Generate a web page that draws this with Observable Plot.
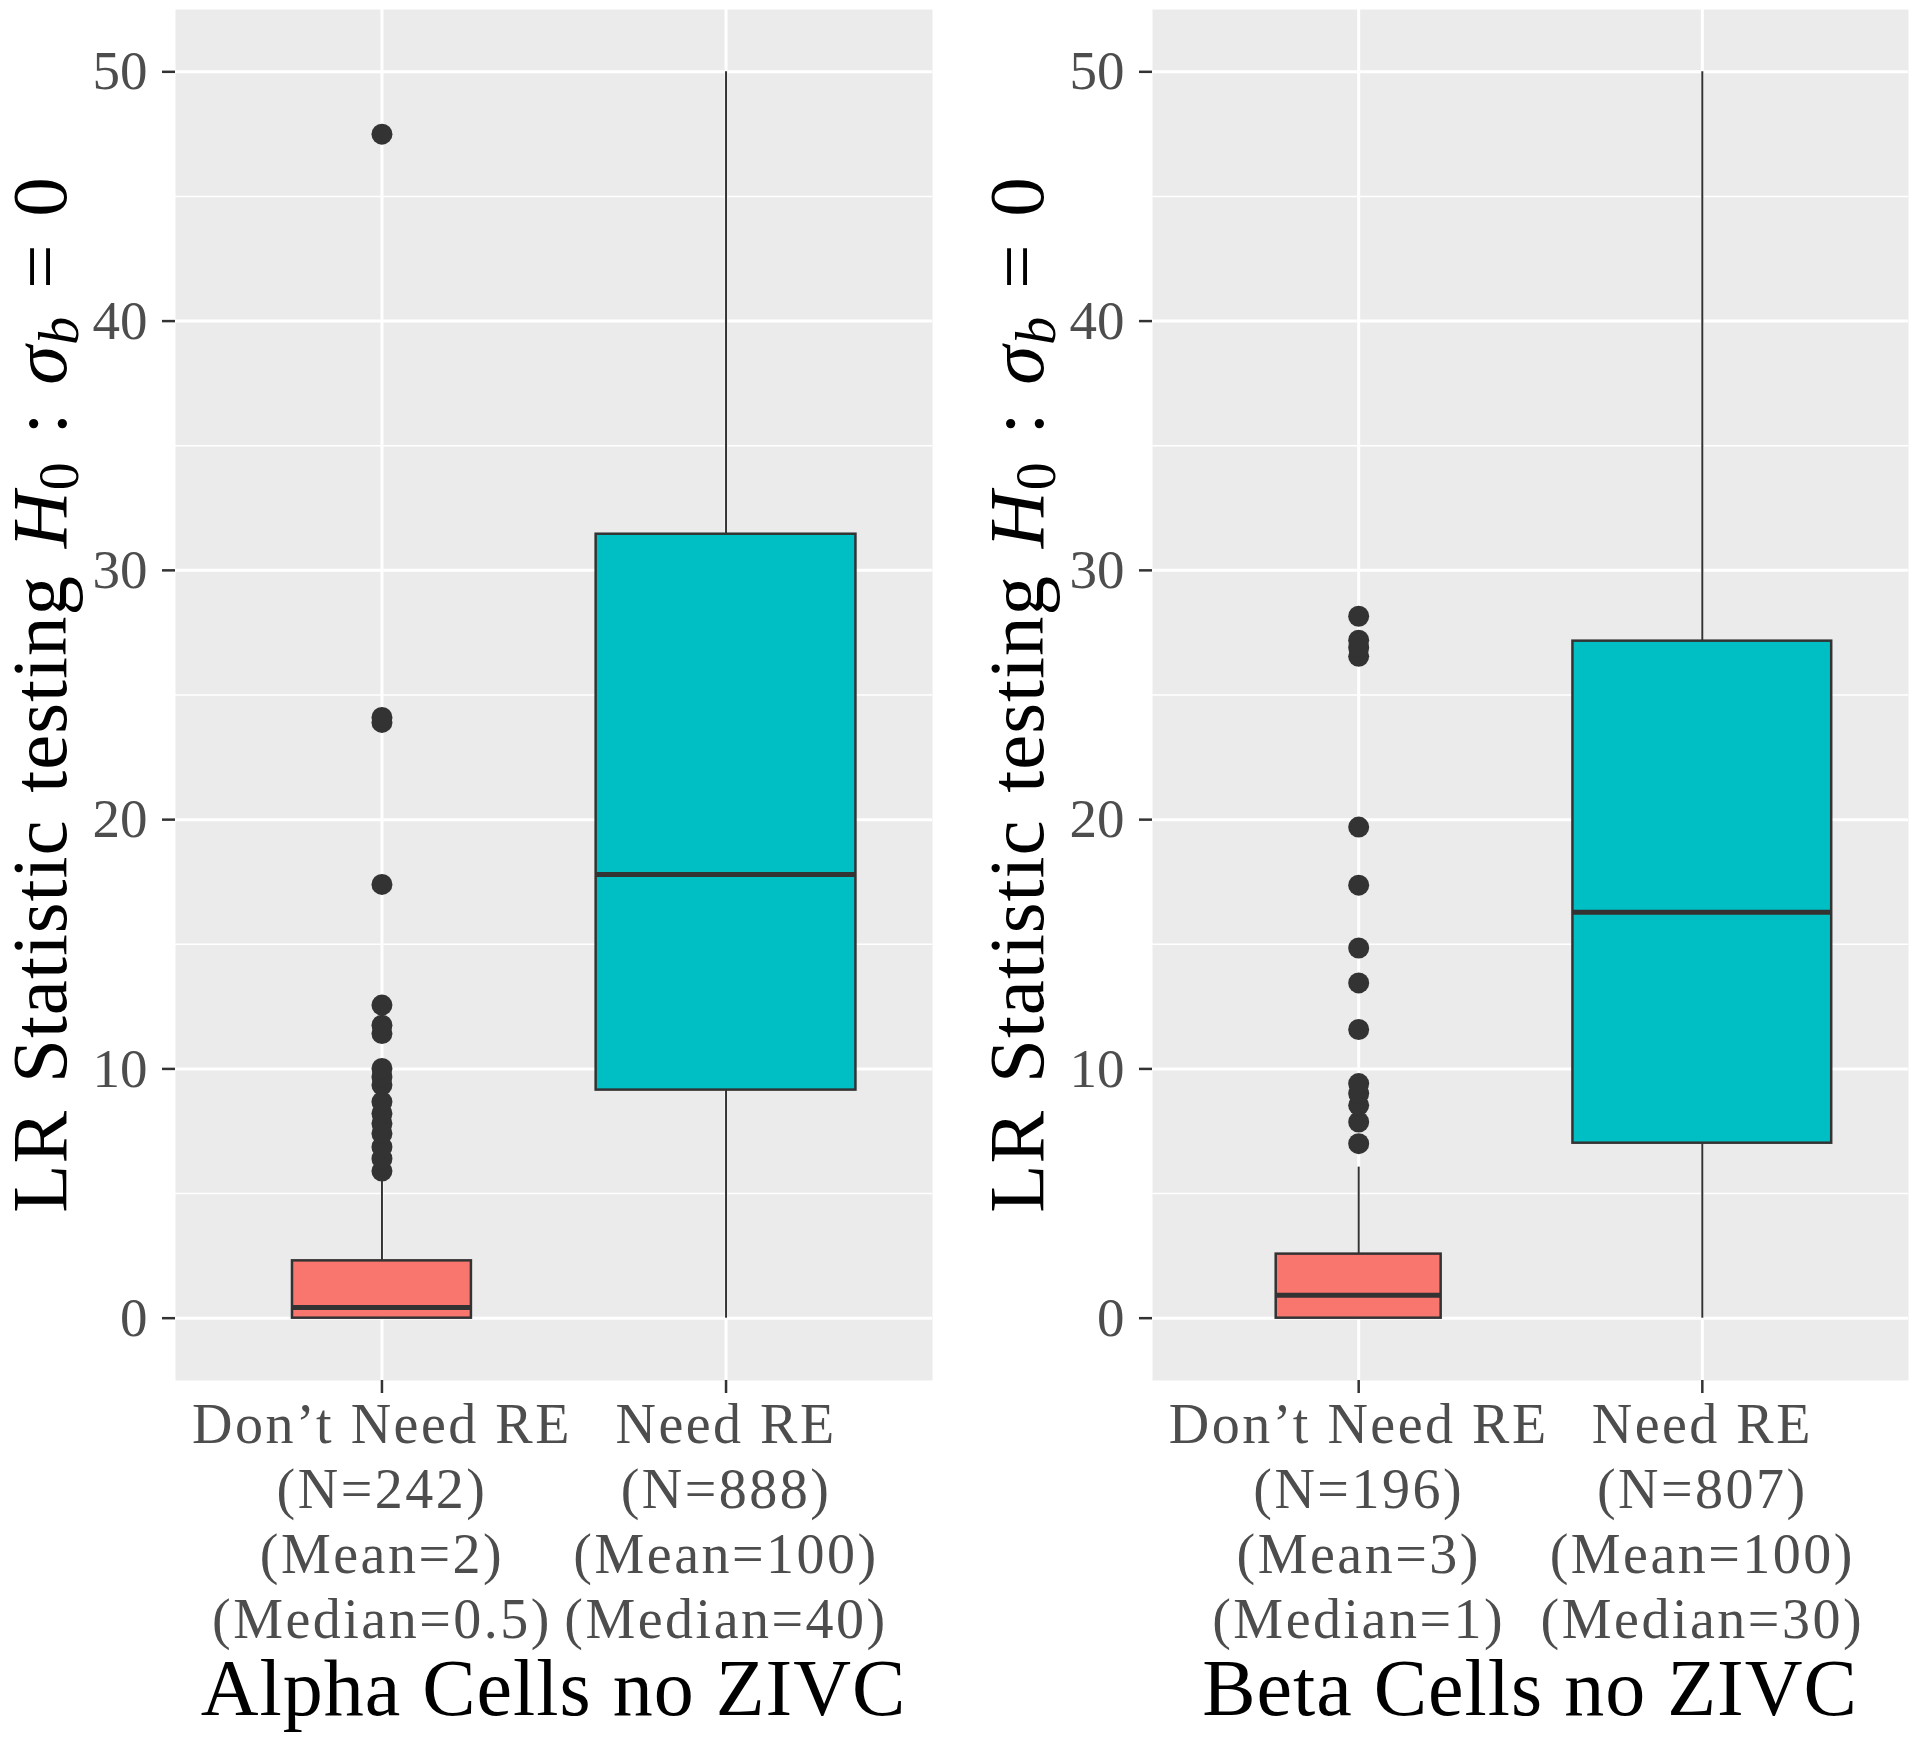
<!DOCTYPE html>
<html><head><meta charset="utf-8">
<script src="https://cdn.jsdelivr.net/npm/d3@7"></script>
<script src="https://cdn.jsdelivr.net/npm/@observablehq/plot@0.6"></script>
<style>
html,body{margin:0;padding:0;background:#fff;}
#wrap{position:relative;width:1920px;height:1739px;overflow:hidden;}
#wrap svg{position:absolute;top:0;}
#wrap g[aria-label="x-axis tick label"] text{letter-spacing:2.5px;}
</style></head><body><div id="wrap"></div>
<script>
// ---------- data ----------
const categories = ["Don\u2019t Need RE", "Need RE"];
const panelTitles = ["Alpha Cells no ZIVC", "Beta Cells no ZIVC"];
const yTicks = [0, 10, 20, 30, 40, 50];
const yMinorTicks = [5, 15, 25, 35, 45];

// Alpha cells
const alphaN = [242, 888];
const alphaMeanLabel = ["2", "100"];
const alphaMedianLabel = ["0.5", "40"];
const alphaLo = [0, 0];
const alphaQ1 = [0, 9.15];
const alphaMedian = [0.43, 17.8];
const alphaQ3 = [2.3, 31.45];
const alphaHi = [5.5, 50];
const alphaOutliers = [5.9, 6.4, 6.87, 7.41, 7.81, 8.21, 8.68, 9.35, 9.68, 10.02, 11.42, 11.75, 12.56, 17.4, 23.9, 24.1, 47.5];

// Beta cells
const betaN = [196, 807];
const betaMeanLabel = ["3", "100"];
const betaMedianLabel = ["1", "30"];
const betaLo = [0, 0];
const betaQ1 = [0, 7.02];
const betaMedian = [0.92, 16.28];
const betaQ3 = [2.57, 27.16];
const betaHi = [6.06, 50];
const betaOutliers = [7.0, 7.87, 8.54, 9.01, 9.41, 11.58, 13.45, 14.85, 17.37, 19.7, 26.55, 26.9, 27.2, 28.16];

// ---------- style / layout ----------
const FONT = "'Liberation Serif', 'DejaVu Serif', serif";
const fills = ["#F8766D", "#00BFC4"];
const dark = "#333333";
const panels = [
  {left: 0, ml: 175, mr: 28, boxW: [0.52, 0.755], labelX: 66,
   n: alphaN, mean: alphaMeanLabel, medLab: alphaMedianLabel,
   lo: alphaLo, q1: alphaQ1, med: alphaMedian, q3: alphaQ3, hi: alphaHi, outs: alphaOutliers, title: panelTitles[0]},
  {left: 960, ml: 192, mr: 12, boxW: [0.48, 0.753], labelX: 83,
   n: betaN, mean: betaMeanLabel, medLab: betaMedianLabel,
   lo: betaLo, q1: betaQ1, med: betaMedian, q3: betaQ3, hi: betaHi, outs: betaOutliers, title: panelTitles[1]}
];
const W = 960, H = 1739, MT = 9, MB = 359;

const wrap = document.getElementById("wrap");

for (const p of panels) {
  const rows = categories.map((c, i) => ({
    pos: i, lo: p.lo[i], q1: p.q1[i], med: p.med[i], q3: p.q3[i], hi: p.hi[i],
    fill: fills[i], x1: i - p.boxW[i] / 2, x2: i + p.boxW[i] / 2
  }));
  const outs = p.outs.map(v => ({pos: 0, v}));
  const tickLabel = i => [categories[i], `(N=${p.n[i]})`, `(Mean=${p.mean[i]})`, `(Median=${p.medLab[i]})`].join("\n");

  const svg = Plot.plot({
    width: W, height: H,
    marginLeft: p.ml, marginRight: p.mr, marginTop: MT, marginBottom: MB,
    x: {type: "linear", domain: [-0.6, 1.6]},
    y: {type: "linear", domain: [-2.5, 52.5]},
    style: {fontFamily: FONT, background: "transparent", overflow: "visible"},
    marks: [
      Plot.frame({fill: "#EBEBEB", stroke: null}),
      Plot.ruleY(yMinorTicks, {stroke: "white", strokeWidth: 1.6}),
      Plot.ruleY(yTicks, {stroke: "white", strokeWidth: 3}),
      Plot.ruleX([0, 1], {stroke: "white", strokeWidth: 3}),
      Plot.ruleX(rows, {x: "pos", y1: "lo", y2: "q1", stroke: dark, strokeWidth: 2}),
      Plot.ruleX(rows, {x: "pos", y1: "q3", y2: "hi", stroke: dark, strokeWidth: 2}),
      Plot.rect(rows, {x1: "x1", x2: "x2", y1: "q1", y2: "q3", fill: "fill", stroke: dark, strokeWidth: 2.5}),
      Plot.ruleY(rows, {y: "med", x1: "x1", x2: "x2", stroke: dark, strokeWidth: 5}),
      Plot.dot(outs, {x: "pos", y: "v", r: 10.5, fill: dark, stroke: null}),
      Plot.axisY(yTicks, {
        tickSize: 13, tickPadding: 15, fontSize: 55, fill: "#4D4D4D",
        stroke: dark, strokeWidth: 2.5, label: null
      }),
      Plot.axisX([0, 1], {
        tickSize: 13, tickPadding: 3, fontSize: 56, lineHeight: 1.16, fill: "#4D4D4D",
        stroke: dark, strokeWidth: 2.5, tickFormat: tickLabel, label: null
      })
    ]
  });
  svg.style.left = p.left + "px";
  const s = d3.select(svg);
  // panel title
  s.append("text")
    .attr("x", (p.ml + (W - p.mr)) / 2).attr("y", 1715)
    .attr("text-anchor", "middle").attr("font-size", 80).attr("fill", "black")
    .attr("font-family", FONT).attr("letter-spacing", 1)
    .text(p.title);
  // y-axis label with math
  const t = s.append("text")
    .attr("transform", `translate(${p.labelX},${(MT + (H - MB)) / 2}) rotate(-90)`)
    .attr("text-anchor", "middle").attr("font-size", 79).attr("fill", "black")
    .attr("font-family", FONT).attr("letter-spacing", 1).attr("word-spacing", 6);
  t.append("tspan").text("LR Statistic testing ");
  t.append("tspan").attr("font-style", "italic").text("H");
  t.append("tspan").attr("font-size", 56).attr("dy", 12).text("0");
  t.append("tspan").attr("dy", -12).text(" : ");
  t.append("tspan").attr("font-style", "italic").text("\u03C3");
  t.append("tspan").attr("font-style", "italic").attr("font-size", 56).attr("dy", 12).text("b");
  t.append("tspan").attr("dy", -12).text(" = 0");
  wrap.appendChild(svg);
}
</script></body></html>
